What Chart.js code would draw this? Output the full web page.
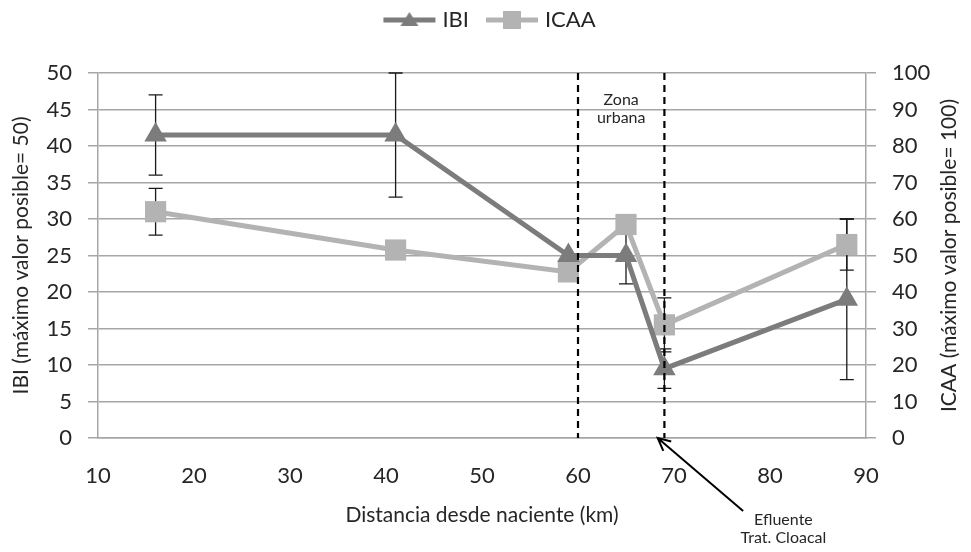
<!DOCTYPE html>
<html>
<head>
<meta charset="utf-8">
<script src="https://cdn.jsdelivr.net/npm/chart.js@4.4.0/dist/chart.umd.min.js"></script>
<style>
  body { margin: 0; background: #fff; }
</style>
</head>
<body>
<canvas id="myChart" width="971" height="552"></canvas>
<script>
//Data
let distKm = [16, 41, 59, 65, 69, 88]; // distancia desde naciente
let ibiValues = [41.5, 41.5, 25, 25, 9.5, 19];
let ibiErr = [5.5, 8.5, 0, 3.9, 2.7, 11];
let icaaValues = [62, 51.5, 45.5, 58.5, 31, 53];
let icaaErr = [6.4, 0, 0, 0, 7.4, 7];
let zoneLimits = [60, 69]; // dashed lines around the urban zone
let xTicks = [10, 20, 30, 40, 50, 60, 70, 80, 90];

let ibiColor = '#7c7c7c',
  icaaColor = '#b3b3b3',
  gridColor = '#a6a6a6',
  textColor = '#262626',
  fontFamily = 'Lato, "Open Sans", sans-serif';

Chart.defaults.font.family = fontFamily;
Chart.defaults.color = textColor;

//Legend icon: line with the marker in the middle
function legendIcon(color, style) {
  let c = document.createElement('canvas');
  c.width = 70; c.height = 24;
  let g = c.getContext('2d');
  g.strokeStyle = color;
  g.lineWidth = 5;
  g.beginPath(); g.moveTo(15, 12); g.lineTo(67, 12); g.stroke();
  g.fillStyle = color;
  if (style === 'triangle') {
    g.beginPath(); g.moveTo(41, 4); g.lineTo(32, 18); g.lineTo(50, 18); g.closePath(); g.fill();
  } else {
    g.fillRect(32, 3, 18, 18);
  }
  return c;
}

//Extra room under the legend
const legendSpacer = {
  id: 'legendSpacer',
  beforeUpdate(chart) {
    let lg = chart.legend;
    if (!lg || lg._spaced) return;
    let fit = lg.fit;
    lg.fit = function () { fit.call(this); this.height += 32; };
    lg._spaced = true;
  }
};

//Error bars, dashed lines and notes, all placed through the scales
const extras = {
  id: 'extras',
  beforeDatasetsDraw(chart) {
    let ctx = chart.ctx, x = chart.scales.x;
    ctx.save();
    ctx.lineWidth = 1.3;
    ctx.strokeStyle = '#1a1a1a';
    [[ibiValues, ibiErr, 'y'], [icaaValues, icaaErr, 'y1']].forEach(([vals, errs, axis]) => {
      let sc = chart.scales[axis];
      vals.forEach((v, i) => {
        if (!errs[i]) return;
        let px = x.getPixelForValue(distKm[i]);
        let top = sc.getPixelForValue(v + errs[i]), bot = sc.getPixelForValue(v - errs[i]);
        ctx.beginPath();
        ctx.moveTo(px, top); ctx.lineTo(px, bot);
        ctx.moveTo(px - 7, top); ctx.lineTo(px + 7, top);
        ctx.moveTo(px - 7, bot); ctx.lineTo(px + 7, bot);
        ctx.stroke();
      });
    });
    ctx.restore();
  },
  afterDatasetsDraw(chart) {
    let ctx = chart.ctx, x = chart.scales.x, y = chart.scales.y, area = chart.chartArea;
    ctx.save();
    // dashed zone limits
    ctx.strokeStyle = '#000';
    ctx.lineWidth = 2.2;
    ctx.setLineDash([7, 5]);
    zoneLimits.forEach(km => {
      let px = x.getPixelForValue(km);
      ctx.beginPath(); ctx.moveTo(px, area.top); ctx.lineTo(px, area.bottom); ctx.stroke();
    });
    ctx.setLineDash([]);
    // zona urbana label
    let mid = x.getPixelForValue((zoneLimits[0] + zoneLimits[1]) / 2);
    ctx.fillStyle = textColor;
    ctx.font = '16px ' + fontFamily;
    ctx.textAlign = 'center';
    ctx.textBaseline = 'middle';
    ctx.fillText('Zona', mid, y.getPixelForValue(46.3));
    ctx.fillText('urbana', mid, y.getPixelForValue(43.8));
    // arrow to the effluent
    let tipX = x.getPixelForValue(68.3), tipY = y.getPixelForValue(0);
    let tailX = x.getPixelForValue(77.2), tailY = y.getPixelForValue(-10);
    let ang = Math.atan2(tipY - tailY, tipX - tailX);
    ctx.strokeStyle = '#000';
    ctx.lineWidth = 2;
    ctx.beginPath();
    ctx.moveTo(tailX, tailY); ctx.lineTo(tipX, tipY);
    ctx.moveTo(tipX - 14 * Math.cos(ang - 0.45), tipY - 14 * Math.sin(ang - 0.45));
    ctx.lineTo(tipX, tipY);
    ctx.lineTo(tipX - 14 * Math.cos(ang + 0.45), tipY - 14 * Math.sin(ang + 0.45));
    ctx.stroke();
    ctx.fillText('Efluente', x.getPixelForValue(81.4), y.getPixelForValue(-11.2));
    ctx.fillText('Trat. Cloacal', x.getPixelForValue(81.4), y.getPixelForValue(-13.7));
    ctx.restore();
  },
  afterDraw(chart) {
    // right axis title, reading bottom to top
    let ctx = chart.ctx, area = chart.chartArea;
    ctx.save();
    ctx.translate(chart.width - 22, (area.top + area.bottom) / 2);
    ctx.rotate(-Math.PI / 2);
    ctx.font = '21px ' + fontFamily;
    ctx.fillStyle = textColor;
    ctx.textAlign = 'center';
    ctx.textBaseline = 'middle';
    ctx.fillText('ICAA (máximo valor posible= 100)', 0, 0);
    ctx.restore();
  }
};

let ctx = document.getElementById('myChart').getContext('2d');
let myChart = new Chart(ctx, {
  type: 'line',
  data: {
    datasets: [{
      label: 'IBI',
      data: distKm.map((d, i) => ({ x: d, y: ibiValues[i] })),
      yAxisID: 'y',
      borderColor: ibiColor,
      backgroundColor: ibiColor,
      borderWidth: 5,
      pointStyle: 'triangle',
      pointRadius: 13,
      pointBorderWidth: 0,
      pointBackgroundColor: ibiColor,
      tension: 0
    }, {
      label: 'ICAA',
      data: distKm.map((d, i) => ({ x: d, y: icaaValues[i] })),
      yAxisID: 'y1',
      borderColor: icaaColor,
      backgroundColor: icaaColor,
      borderWidth: 5,
      pointStyle: 'rect',
      pointRadius: 15,
      pointBorderWidth: 0,
      pointBackgroundColor: icaaColor,
      tension: 0
    }]
  },
  options: {
    responsive: false,
    animation: false,
    devicePixelRatio: 1,
    layout: { padding: { top: 0, left: 0, right: 0, bottom: 0 } },
    plugins: {
      tooltip: { enabled: false },
      legend: {
        position: 'top',
        labels: {
          font: { size: 22 },
          color: textColor,
          padding: 9,
          usePointStyle: true,
          pointStyleWidth: 56,
          generateLabels: chart => chart.data.datasets.map((ds, i) => ({
            text: ds.label,
            datasetIndex: i,
            pointStyle: legendIcon(ds.borderColor, ds.pointStyle),
            fontColor: textColor,
            lineWidth: 0,
            hidden: false
          }))
        }
      }
    },
    scales: {
      x: {
        type: 'linear',
        min: 10, max: 90,
        afterBuildTicks: s => { s.ticks = xTicks.map(v => ({ value: v })); },
        afterFit: s => { s.height = 114; },
        grid: { display: false, drawTicks: false },
        border: { display: true, color: gridColor, width: 1.5 },
        ticks: { font: { size: 22 }, padding: 25, color: textColor },
        title: { display: true, text: 'Distancia desde naciente (km)', font: { size: 21 }, color: textColor, padding: { bottom: 24, top: 0 } }
      },
      y: {
        position: 'left',
        min: 0, max: 50,
        ticks: { stepSize: 5, font: { size: 22 }, padding: 16, color: textColor },
        afterFit: s => { s.width = 98; },
        grid: { color: gridColor, lineWidth: 1.5, tickLength: 10 },
        border: { display: true, color: gridColor, width: 1.5 },
        title: { display: true, text: 'IBI (máximo valor posible= 50)', font: { size: 21 }, color: textColor, padding: { top: 9, bottom: 0 } }
      },
      y1: {
        position: 'right',
        min: 0, max: 100,
        ticks: { stepSize: 10, font: { size: 22 }, padding: 16, color: textColor },
        afterFit: s => { s.width = 105; },
        grid: { drawOnChartArea: false, color: gridColor, lineWidth: 1.5, tickLength: 10 },
        border: { display: true, color: gridColor, width: 1.5 }
      }
    }
  },
  plugins: [legendSpacer, extras]
});
</script>
</body>
</html>
